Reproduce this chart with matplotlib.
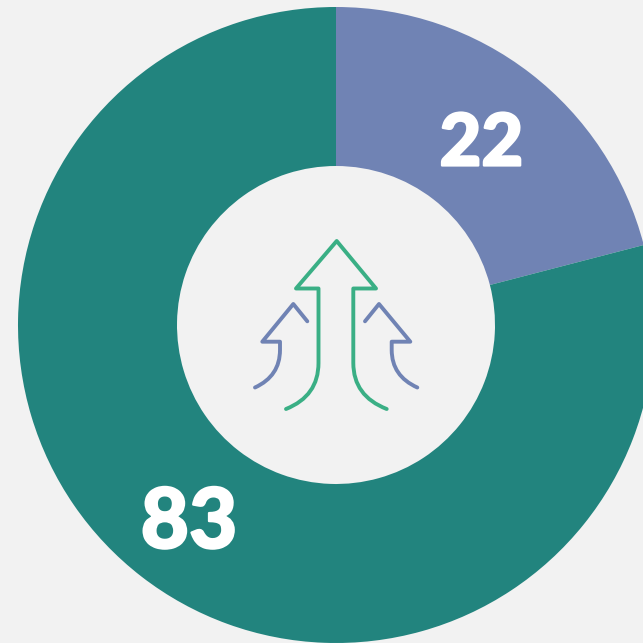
import matplotlib
matplotlib.use("Agg")
import matplotlib.pyplot as plt
import matplotlib.patheffects as pe
from matplotlib.path import Path
from matplotlib.patches import PathPatch

values = [22, 83]
labels = ["22", "83"]
colors = ["#7083b4", "#22847e"]
bg = "#f2f2f2"
icon_green = "#3aaf85"
icon_blue = "#7083b4"

plt.rcParams['font.family'] = ['Lato', 'DejaVu Sans']

fig = plt.figure(figsize=(6.43, 6.43), dpi=100, facecolor=bg)
ax = fig.add_axes([0, 0, 1, 1])

# y is flipped so the axes read as picture pixels, so counterclock runs clockwise on screen
ax.pie(values, colors=colors, startangle=-90, counterclock=True,
       center=(336, 325), radius=318,
       wedgeprops=dict(width=159, linewidth=0), frame=True)
ax.set_xlim(0, 643)
ax.set_ylim(643, 0)
ax.set_aspect("equal")
ax.axis("off")

# the original digits are heavier than Lato black, a thin white stroke makes up for it
heavy = [pe.withStroke(linewidth=1.6, foreground="white")]
ax.text(481.5, 138.5, labels[0], color="white", fontsize=52, fontweight="black",
        ha="center", va="center_baseline", path_effects=heavy)
ax.text(189, 516.5, labels[1], color="white", fontsize=60, fontweight="black",
        ha="center", va="center_baseline", path_effects=heavy)


def stroke(points, color):
    codes = [Path.MOVETO]
    verts = [points[0]]
    for p in points[1:]:
        if len(p) == 4:
            verts += [(p[0], p[1]), (p[2], p[3])]
            codes += [Path.CURVE3, Path.CURVE3]
        else:
            verts.append(p)
            codes.append(Path.LINETO)
    ax.add_patch(PathPatch(Path(verts, codes), fill=False, edgecolor=color, lw=2.8,
                           capstyle="round", joinstyle="round"))


# icon
stroke([(286, 409), (318.5, 396, 318.5, 363), (318.5, 288.5), (296, 288.5), (336.7, 241),
        (376, 288.5), (353.3, 288.5), (353.3, 363), (353.3, 396, 386.7, 409)], icon_green)
stroke([(255, 387.5), (280, 376, 280, 350), (280, 341.7), (262.3, 341.7), (293.3, 304),
        (307.3, 321.3)], icon_blue)
stroke([(417.3, 387.5), (391.7, 376, 391.7, 350), (391.7, 341.7), (410.3, 341.7), (379, 304),
        (365, 321.3)], icon_blue)

fig.savefig("out.png", dpi=100, facecolor=bg)
